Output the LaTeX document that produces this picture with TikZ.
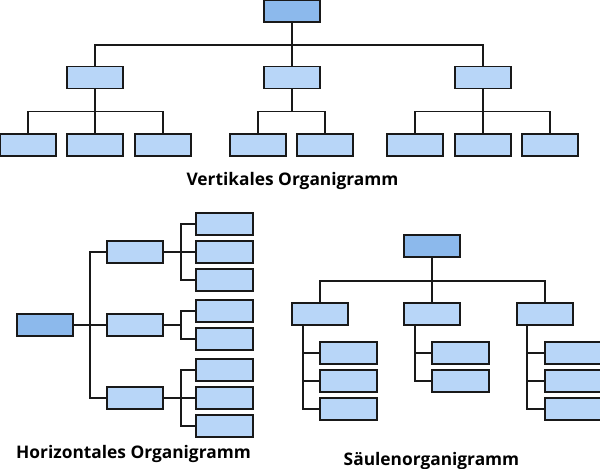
\documentclass[tikz,border=0pt]{standalone}
\usepackage{fontspec}
\setmainfont{Open Sans}
\usetikzlibrary{backgrounds}
\begin{document}
\begin{tikzpicture}[x=0.75pt,y=-0.75pt,
  box/.style={draw=black!90,line width=1.4pt,fill=boxfill,minimum width=42.5pt,minimum height=16.5pt,inner sep=0pt},
  rootbox/.style={box,fill=rootfill},
  conn/.style={line width=1.3pt,draw=black!90},
  title/.style={font=\bfseries\fontsize{13pt}{15pt}\selectfont,anchor=base,inner sep=0pt}]
\definecolor{boxfill}{HTML}{B8D6F8}
\definecolor{rootfill}{HTML}{8CB9EC}
\useasboundingbox (0,0) rectangle (600,468);
% ---------- vertical ----------
\node[rootbox] (r) at (292,11) {};
\node[box] (a1) at (95,77.5) {};
\node[box] (a2) at (292,77.5) {};
\node[box] (a3) at (483,77.5) {};
\foreach \n/\x in {b1/28,b2/95,b3/163,b4/258,b5/325,b6/415,b7/483,b8/550}
  \node[box] (\n) at (\x,145) {};
\node[title] (t1) at (292.5,185) {Vertikales Organigramm};
% ---------- horizontal ----------
\node[rootbox] (hr) at (45,325) {};
\node[box] (m1) at (135,252) {};
\node[box] (m2) at (135,325) {};
\node[box] (m3) at (135,398) {};
\foreach \n/\y in {l1/224,l2/252,l3/280,l4/311,l5/339,l6/370,l7/398,l8/426}
  \node[box] (\n) at (224.5,\y) {};
\node[title] (t2) at (133.5,458) {Horizontales Organigramm};
% ---------- column ----------
\node[rootbox] (sr) at (432,246) {};
\node[box] (s1) at (320,314) {};
\node[box] (s2) at (432,314) {};
\node[box] (s3) at (545,314) {};
\foreach \n/\y in {p1/353,p2/381,p3/409} \node[box] (\n) at (348.5,\y) {};
\foreach \n/\y in {q1/353,q2/381} \node[box] (\n) at (460.5,\y) {};
\foreach \n/\y in {u1/353,u2/381,u3/409} \node[box] (\n) at (573,\y) {};
\node[title] (t3) at (431.5,465) {Säulenorganigramm};
% ---------- connectors ----------
\begin{scope}[on background layer]
\foreach \c in {a1,a2,a3} \draw[conn] (r.south) -- ++(0,22) -| (\c.north);
\foreach \c in {b1,b2,b3} \draw[conn] (a1.south) -- ++(0,22) -| (\c.north);
\foreach \c in {b4,b5} \draw[conn] (a2.south) -- ++(0,22) -| (\c.north);
\foreach \c in {b6,b7,b8} \draw[conn] (a3.south) -- ++(0,22) -| (\c.north);
\foreach \c in {m1,m2,m3} \draw[conn] (hr.east) -- ++(16,0) |- (\c.west);
\foreach \c in {l1,l2,l3} \draw[conn] (m1.east) -- ++(17,0) |- (\c.west);
\foreach \c in {l4,l5} \draw[conn] (m2.east) -- ++(17,0) |- (\c.west);
\foreach \c in {l6,l7,l8} \draw[conn] (m3.east) -- ++(17,0) |- (\c.west);
\foreach \c in {s1,s2,s3} \draw[conn] (sr.south) -- ++(0,23) -| (\c.north);
\foreach \c in {p1,p2,p3} \draw[conn] ([xshift=9pt]s1.south west) |- (\c.west);
\foreach \c in {q1,q2} \draw[conn] ([xshift=9pt]s2.south west) |- (\c.west);
\foreach \c in {u1,u2,u3} \draw[conn] ([xshift=8.5pt]s3.south west) |- (\c.west);
\end{scope}
\end{tikzpicture}
\end{document}
